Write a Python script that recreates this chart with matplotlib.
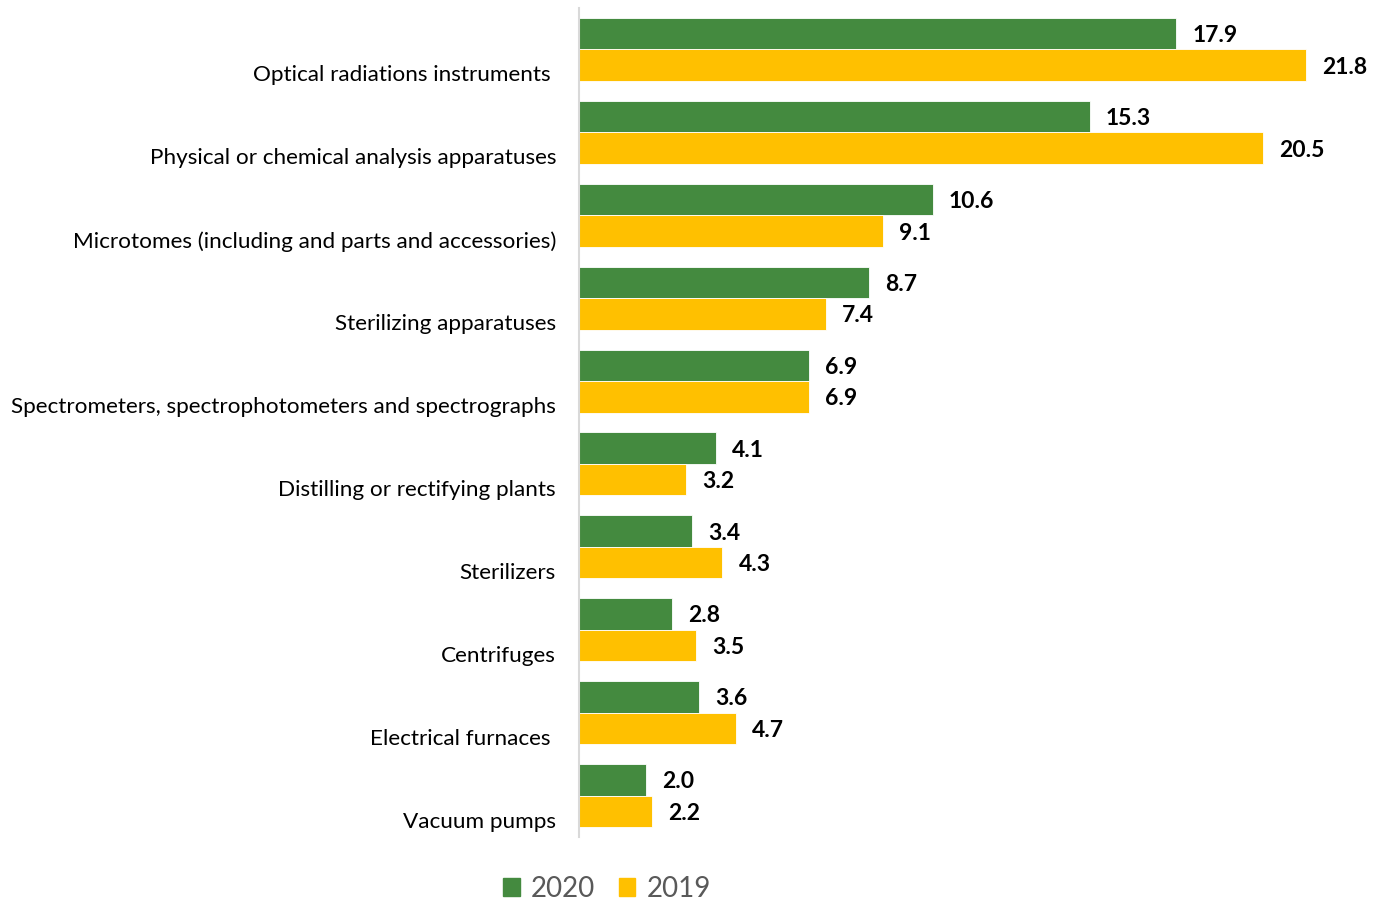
import matplotlib
matplotlib.use("Agg")
import matplotlib.pyplot as plt
import matplotlib.transforms as mtransforms
from matplotlib.patches import Patch
import numpy as np

categories = [
    "Optical radiations instruments ",
    "Physical or chemical analysis apparatuses",
    "Microtomes (including and parts and accessories)",
    "Sterilizing apparatuses",
    "Spectrometers, spectrophotometers and spectrographs",
    "Distilling or rectifying plants",
    "Sterilizers",
    "Centrifuges",
    "Electrical furnaces ",
    "Vacuum pumps",
]
values_2020 = [17.9, 15.3, 10.6, 8.7, 6.9, 4.1, 3.4, 2.8, 3.6, 2.0]
values_2019 = [21.8, 20.5, 9.1, 7.4, 6.9, 3.2, 4.3, 3.5, 4.7, 2.2]

green = "#448A3F"
yellow = "#FFC000"

plt.rcParams["font.family"] = ["Lato", "DejaVu Sans"]

W, H = 1374, 901
fig = plt.figure(figsize=(W / 100, H / 100), dpi=100)
# axes in pixel coordinates: left 579, top 8, bottom 837
ax = fig.add_axes([579 / W, 1 - 837 / H, (W - 579) / W, (837 - 8) / H])

y = np.arange(len(categories))
h = 0.38
ax.barh(y - h / 2, values_2020, height=h, color=green, edgecolor="white", linewidth=0.6)
ax.barh(y + h / 2, values_2019, height=h, color=yellow, edgecolor="white", linewidth=0.6)

ax.set_xlim(0, (W - 579) / 33.37)
ax.set_ylim(len(categories) - 0.5, -0.5)

# value labels
for i in range(len(categories)):
    ax.annotate(f"{values_2020[i]:.1f}", (values_2020[i], y[i] - h / 2), xytext=(16, -2),
                textcoords="offset pixels", va="center", ha="left",
                fontsize=16.5, fontweight="bold", color="black")
    ax.annotate(f"{values_2019[i]:.1f}", (values_2019[i], y[i] + h / 2), xytext=(16, -2),
                textcoords="offset pixels", va="center", ha="left",
                fontsize=16.5, fontweight="bold", color="black")

# category labels, sitting a bit below the group centre
ax.set_yticks([])
trans = mtransforms.blended_transform_factory(ax.transAxes, ax.transData)
for i, c in enumerate(categories):
    ax.annotate(c, (0, y[i]), xycoords=trans, xytext=(-23, -26),
                textcoords="offset pixels", ha="right", va="center",
                fontsize=16.2, color="black")

ax.set_xticks([])
for s in ["top", "right", "bottom"]:
    ax.spines[s].set_visible(False)
ax.spines["left"].set_color("#D9D9D9")
ax.spines["left"].set_linewidth(1.5)

handles = [Patch(color=green, label="2020"), Patch(color=yellow, label="2019")]
fig.legend(handles=handles, loc="center", bbox_to_anchor=(607 / W, 1 - 889 / H), ncol=2,
           frameon=False, fontsize=20, labelcolor="#595959", handlelength=0.6,
           handleheight=0.6, handletextpad=0.4, columnspacing=0.85)

fig.savefig("out.png", dpi=100)
